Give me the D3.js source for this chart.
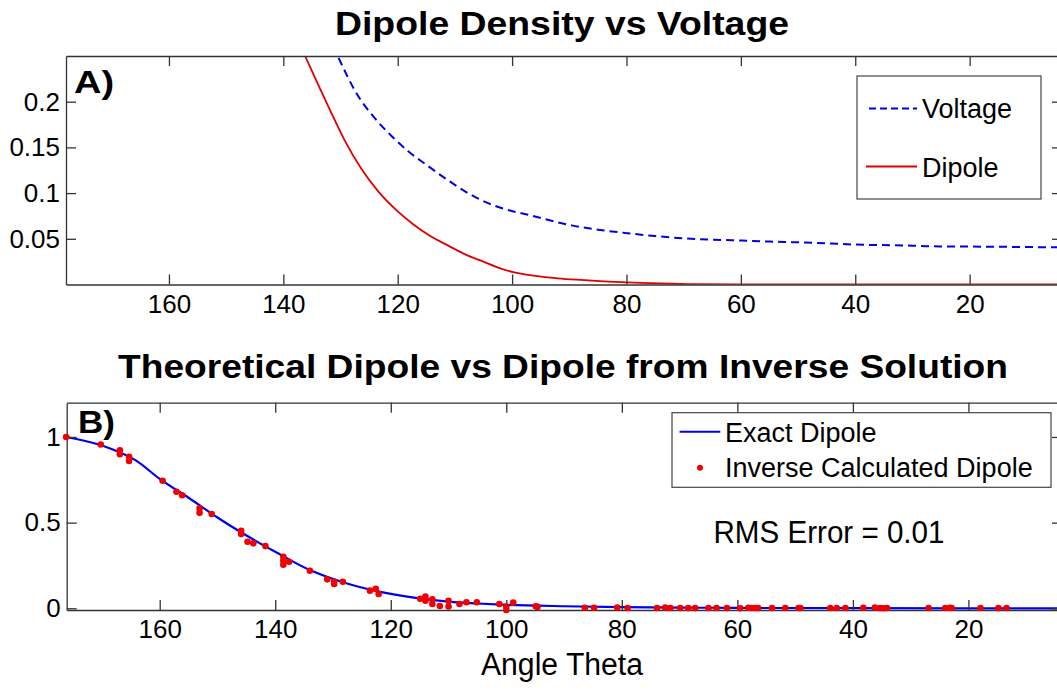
<!DOCTYPE html>
<html>
<head>
    <meta charset="utf-8">
    <title>Dipole Density vs Voltage</title>
    <script src="https://cdn.jsdelivr.net/npm/d3@7/dist/d3.min.js"></script>
    <style>
        body { margin: 0; background: #fff; }
        text { font-family: Arial, "Liberation Sans", sans-serif; fill: #000; }
    </style>
</head>
<body>
    <svg width="1057" height="690" id="mainsvg"></svg>
    <script>
        // ---- data ----
        // panel A: dipole density (red) and voltage (blue dashed) vs angle theta
        const dipoleTheta = [142, 136.2, 132, 129.3, 126.3, 123.3, 120, 117.3, 114.3, 111, 108.2, 105, 102.2, 99.8, 96, 92, 88, 84, 80, 76, 72, 68, 60, 40, 20, 3.8];
        const dipoleValues = [0.33, 0.25, 0.193, 0.158, 0.126, 0.101, 0.080, 0.066, 0.053, 0.042, 0.033, 0.025, 0.018, 0.0135, 0.0095, 0.0068, 0.005, 0.0035, 0.0024, 0.0015, 0.0008, 0.0004, 0.0001, 0, 0, 0];
        const voltageTheta = [134, 130.5, 127, 124, 121, 118, 115, 111.2, 107.6, 104, 100.4, 96.8, 92, 89.6, 85, 79.9, 75, 68.7, 65, 59.9, 55, 50.7, 45, 40.1, 30, 26.8, 20.1, 10, 3.8];
        const voltageValues = [0.30, 0.25, 0.207, 0.182, 0.162, 0.145, 0.131, 0.114, 0.0996, 0.0885, 0.081, 0.0757, 0.068, 0.0647, 0.060, 0.0562, 0.053, 0.050, 0.049, 0.0481, 0.047, 0.0463, 0.045, 0.0437, 0.0425, 0.0418, 0.0415, 0.041, 0.0406];

        // panel B: exact dipole (blue line) and inverse calculated dipole (red dots)
        const exactTheta = [176.2, 170, 164, 160, 155, 150, 146, 140, 134, 128, 122, 116, 110, 105, 100, 90, 80, 70, 60, 40, 20, 3.8];
        const exactValues = [1.0, 0.95, 0.86, 0.755, 0.645, 0.53, 0.445, 0.33, 0.223, 0.149, 0.097, 0.062, 0.039, 0.028, 0.02, 0.012, 0.007, 0.004, 0.002, 0.001, 0, 0];
        const inverseTheta = [176.2, 170.2, 166.9, 166.9, 165.3, 165.3, 159.5, 157.1, 156.1, 153.1, 153.1, 151.0, 145.9, 145.9, 144.8, 143.8, 141.7, 138.6, 138.6, 138.6, 137.6, 134.0, 131.0, 129.8, 129.8, 128.3, 123.6, 122.6, 122.1, 114.9, 114.0, 114.0, 112.8, 112.8, 111.5, 110.0, 110.0, 108.1, 106.9, 105.1, 101.2, 100.0, 100.0, 98.8, 94.9, 94.6, 86.4, 84.8, 80.8, 79.0, 73.9, 72.5, 71.6, 69.9, 68.5, 67.3, 65.0, 63.6, 61.8, 59.5, 58.1, 57.5, 56.9, 56.4, 54.0, 51.7, 49.4, 49.1, 43.9, 42.8, 41.3, 38.2, 36.2, 35.3, 34.7, 34.1, 26.9, 24.0, 23.2, 22.9, 17.9, 14.8, 13.4];
        const inverseValues = [1.0, 0.956, 0.922, 0.899, 0.884, 0.86, 0.744, 0.68, 0.66, 0.583, 0.557, 0.55, 0.452, 0.433, 0.388, 0.379, 0.363, 0.301, 0.278, 0.254, 0.272, 0.219, 0.169, 0.155, 0.142, 0.155, 0.103, 0.114, 0.083, 0.056, 0.068, 0.044, 0.052, 0.025, 0.013, 0.043, 0.01, 0.025, 0.035, 0.035, 0.025, -0.01, 0.01, 0.033, 0.012, 0.008, 0.003, 0.003, 0.004, 0.002, 0.002, 0.004, 0.002, 0.002, 0.002, 0.001, 0.002, 0.002, 0.001, 0.0, 0.003, 0.002, 0.002, 0.001, 0.002, 0.002, 0.002, 0.002, 0.002, 0.002, 0.002, 0.003, 0.004, 0.001, 0.0, 0.002, 0.002, 0.002, 0.003, 0.002, 0.002, 0.001, 0.002];

        const xTicks = [160, 140, 120, 100, 80, 60, 40, 20];
        const yTicksA = [0.05, 0.1, 0.15, 0.2];
        const yTicksB = [0, 0.5, 1];

        const svg = d3.select('svg');
        const axisColor = '#333';

        // draws the box, inward ticks on all four sides, and the tick labels
        function drawFrame(g, x, y, yTicks, yFormat) {
            const [x0, x1] = x.range();
            const [y0, y1] = y.range();
            const styleAxis = sel => {
                sel.selectAll('path').attr('stroke', axisColor).attr('stroke-width', 1.3);
                sel.selectAll('line').attr('stroke', axisColor).attr('stroke-width', 1.3);
                sel.selectAll('text').attr('font-size', 26).attr('fill', '#000')
                    .style('font-family', 'Arial, "Liberation Sans", sans-serif');
            };
            g.append('g').attr('transform', `translate(0,${y0})`)
                .call(d3.axisBottom(x).tickValues(xTicks).tickSize(-10).tickSizeOuter(0).tickPadding(10).tickFormat(d3.format('d')))
                .call(styleAxis);
            g.append('g').attr('transform', `translate(0,${y1})`)
                .call(d3.axisTop(x).tickValues(xTicks).tickSize(-10).tickSizeOuter(0).tickFormat(''))
                .call(styleAxis);
            g.append('g').attr('transform', `translate(${x0},0)`)
                .call(d3.axisLeft(y).tickValues(yTicks).tickSize(-10).tickSizeOuter(0).tickPadding(6).tickFormat(yFormat))
                .call(styleAxis);
            g.append('g').attr('transform', `translate(${x1},0)`)
                .call(d3.axisRight(y).tickValues(yTicks).tickSize(-10).tickSizeOuter(0).tickFormat(''))
                .call(styleAxis);
            g.selectAll('.domain').attr('fill', 'none');
        }

        // ---------- panel A ----------
        const xA = d3.scaleLinear().domain([178, 3.85]).range([66, 1062]);
        const yA = d3.scaleLinear().domain([0, 0.25]).range([284.5, 56]);
        const gA = svg.append('g');

        svg.append('clipPath').attr('id', 'clipA').append('rect')
            .attr('x', 66).attr('y', 56).attr('width', 1062 - 66).attr('height', 284.5 - 56);

        const lineA = d3.line().x(d => xA(d[0])).y(d => yA(d[1])).curve(d3.curveMonotoneX);
        gA.append('path').datum(d3.zip(voltageTheta, voltageValues))
            .attr('clip-path', 'url(#clipA)')
            .attr('d', lineA).attr('fill', 'none').attr('stroke', '#0000e6')
            .attr('stroke-width', 2).attr('stroke-dasharray', '8,5');
        gA.append('path').datum(d3.zip(dipoleTheta, dipoleValues))
            .attr('clip-path', 'url(#clipA)')
            .attr('d', lineA).attr('fill', 'none').attr('stroke', '#e00000')
            .attr('stroke-width', 1.8);

        drawFrame(gA, xA, yA, yTicksA, d => String(d));

        svg.append('text').attr('x', 562).attr('y', 35).attr('text-anchor', 'middle')
            .attr('font-size', 34).attr('font-weight', 'bold')
            .attr('textLength', 454).attr('lengthAdjust', 'spacingAndGlyphs')
            .text('Dipole Density vs Voltage');
        svg.append('text').attr('x', 74).attr('y', 93).attr('font-size', 32).attr('font-weight', 'bold')
            .attr('textLength', 40).attr('lengthAdjust', 'spacingAndGlyphs').text('A)');

        // legend A
        const legA = svg.append('g');
        legA.append('rect').attr('x', 857).attr('y', 76).attr('width', 184).attr('height', 123)
            .attr('fill', '#fff').attr('stroke', '#444').attr('stroke-width', 1.2);
        legA.append('line').attr('x1', 869).attr('x2', 917).attr('y1', 108.6).attr('y2', 108.6)
            .attr('stroke', '#0000e6').attr('stroke-width', 2).attr('stroke-dasharray', '7,4');
        legA.append('text').attr('x', 922).attr('y', 118).attr('font-size', 27).text('Voltage');
        legA.append('line').attr('x1', 866).attr('x2', 917).attr('y1', 166.4).attr('y2', 166.4)
            .attr('stroke', '#e00000').attr('stroke-width', 2);
        legA.append('text').attr('x', 922).attr('y', 177).attr('font-size', 27).text('Dipole');

        // ---------- panel B ----------
        const xB = d3.scaleLinear().domain([176.1, 3.8]).range([66.7, 1062]);
        const yB = d3.scaleLinear().domain([-0.01, 1.2]).range([610, 402.7]);
        const gB = svg.append('g');

        const lineB = d3.line().x(d => xB(d[0])).y(d => yB(d[1])).curve(d3.curveMonotoneX);
        gB.append('path').datum(d3.zip(exactTheta, exactValues))
            .attr('d', lineB).attr('fill', 'none').attr('stroke', '#0000f0').attr('stroke-width', 2.2);

        drawFrame(gB, xB, yB, yTicksB, d => String(d));

        gB.append('g').selectAll('circle').data(d3.zip(inverseTheta, inverseValues)).join('circle')
            .attr('cx', d => xB(d[0])).attr('cy', d => yB(d[1])).attr('r', 3.3)
            .attr('fill', '#f00000');

        svg.append('text').attr('x', 563).attr('y', 378).attr('text-anchor', 'middle')
            .attr('font-size', 34).attr('font-weight', 'bold')
            .attr('textLength', 890).attr('lengthAdjust', 'spacingAndGlyphs')
            .text('Theoretical Dipole vs Dipole from Inverse Solution');
        svg.append('text').attr('x', 78).attr('y', 433).attr('font-size', 32).attr('font-weight', 'bold')
            .attr('textLength', 37).attr('lengthAdjust', 'spacingAndGlyphs').text('B)');

        // legend B
        const legB = svg.append('g');
        legB.append('rect').attr('x', 672).attr('y', 412.7).attr('width', 379).attr('height', 74.6)
            .attr('fill', '#fff').attr('stroke', '#444').attr('stroke-width', 1.2);
        legB.append('line').attr('x1', 679.6).attr('x2', 720.3).attr('y1', 431.7).attr('y2', 431.7)
            .attr('stroke', '#0000f0').attr('stroke-width', 2);
        legB.append('text').attr('x', 725).attr('y', 442).attr('font-size', 27).text('Exact Dipole');
        legB.append('circle').attr('cx', 700).attr('cy', 467.7).attr('r', 3).attr('fill', '#f00000');
        legB.append('text').attr('x', 725).attr('y', 477).attr('font-size', 27).text('Inverse Calculated Dipole');

        svg.append('text').attr('x', 713.5).attr('y', 543).attr('font-size', 32)
            .attr('textLength', 231).attr('lengthAdjust', 'spacingAndGlyphs').text('RMS Error = 0.01');

        svg.append('text').attr('x', 481).attr('y', 675).attr('font-size', 31)
            .attr('textLength', 162).attr('lengthAdjust', 'spacingAndGlyphs').text('Angle Theta');
    </script>
</body>
</html>
